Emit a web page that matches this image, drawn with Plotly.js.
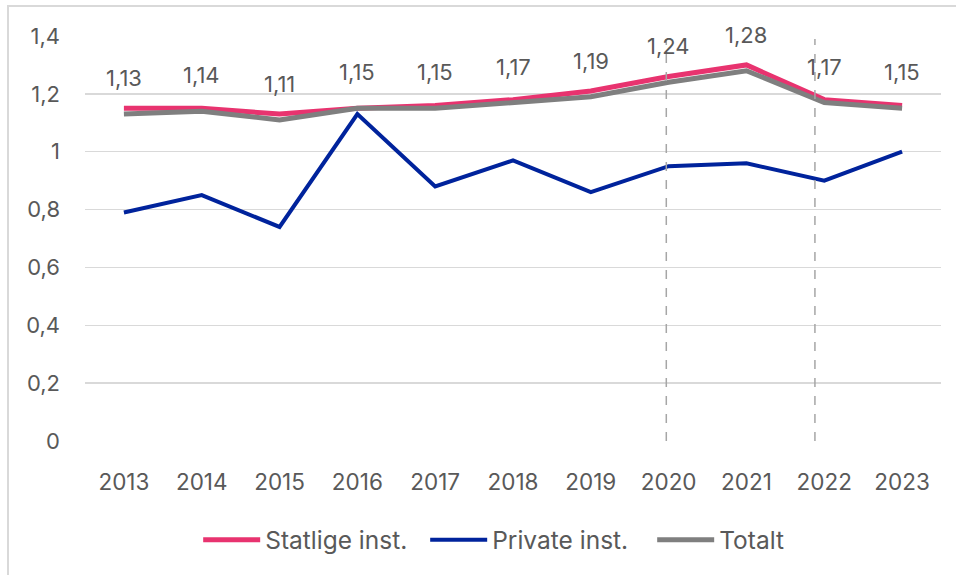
<!DOCTYPE html>
<html>
<head>
<meta charset="utf-8">
<script src="https://cdn.plot.ly/plotly-3.0.1.min.js"></script>
<style>
  html, body { margin: 0; padding: 0; background: #fff; overflow: hidden; }
  #wrap { position: relative; width: 956px; height: 575px; }
  #chart { position: absolute; left: 0; top: 0; width: 956px; height: 575px; }
  #frame { position: absolute; left: 7px; top: 5px; width: 960px; height: 600px;
           border-left: 2px solid #d9d9d9; border-top: 2px solid #d9d9d9; pointer-events: none; }
</style>
</head>
<body>
<div id="wrap">
  <div id="chart"></div>
  <div id="frame"></div>
</div>
<script>
const years = ['2013','2014','2015','2016','2017','2018','2019','2020','2021','2022','2023'];
const statlige = [1.15, 1.15, 1.13, 1.15, 1.16, 1.18, 1.21, 1.26, 1.30, 1.18, 1.16];
const privat   = [0.79, 0.85, 0.74, 1.13, 0.88, 0.97, 0.86, 0.95, 0.96, 0.90, 1.00];
const totalt   = [1.13, 1.14, 1.11, 1.15, 1.15, 1.17, 1.19, 1.24, 1.28, 1.17, 1.15];
const totaltLabels = ['1,13','1,14','1,11','1,15','1,15','1,17','1,19','1,24','1,28','1,17','1,15'];
const dashedAt = [6.97, 8.88];

const FONT = 'Inter, "Open Sans", sans-serif';
const TXT = '#595959';

const traces = [
  { x: years, y: statlige, name: 'Statlige inst.', type: 'scatter', mode: 'lines',
    line: { color: '#e8336f', width: 5 } },
  { x: years, y: privat, name: 'Private inst.', type: 'scatter', mode: 'lines',
    line: { color: '#00239c', width: 4 } },
  { x: years, y: totalt, name: 'Totalt', type: 'scatter', mode: 'lines',
    line: { color: '#7f7f7f', width: 5 } }
];

const annotations = [];
for (let i = 0; i < years.length; i++) {
  annotations.push({
    x: i, y: totalt[i], xref: 'x', yref: 'y', text: totaltLabels[i],
    showarrow: false, yshift: 36, xanchor: 'center', yanchor: 'middle',
    font: { family: FONT, size: 22, color: TXT }
  });
}

const shapes = dashedAt.map(p => ({
  type: 'line', xref: 'x', yref: 'y', x0: p, x1: p, y0: 0, y1: 1.39,
  line: { color: '#a6a6a6', width: 1.5, dash: 'dash' }
}));

const layout = {
  width: 956, height: 575,
  margin: { l: 85, r: 15, t: 36, b: 134 },
  paper_bgcolor: 'rgba(0,0,0,0)', plot_bgcolor: '#fff',
  separators: ',.',
  font: { family: FONT, size: 22, color: TXT },
  showlegend: true,
  legend: { orientation: 'h', x: 0.53, xanchor: 'center', y: -0.244, yanchor: 'middle',
            font: { family: FONT, size: 24.5, color: TXT }, itemwidth: 57,
            entrywidth: 155, entrywidthmode: 'pixels' },
  xaxis: { type: 'category', range: [-0.5, 10.5], showgrid: false, zeroline: false,
           showline: false, ticks: '', ticklabelstandoff: 25,
           tickfont: { family: FONT, size: 22.5, color: TXT } },
  yaxis: { range: [0, 1.4], dtick: 0.2, tick0: 0, showgrid: true, gridcolor: '#d9d9d9',
           gridwidth: 1.5, zeroline: false, showline: false, ticks: '', ticklabelstandoff: 24,
           tickfont: { family: FONT, size: 22, color: TXT } },
  annotations: annotations,
  shapes: shapes
};

Plotly.newPlot('chart', traces, layout, { staticPlot: true, displayModeBar: false });
</script>
</body>
</html>
